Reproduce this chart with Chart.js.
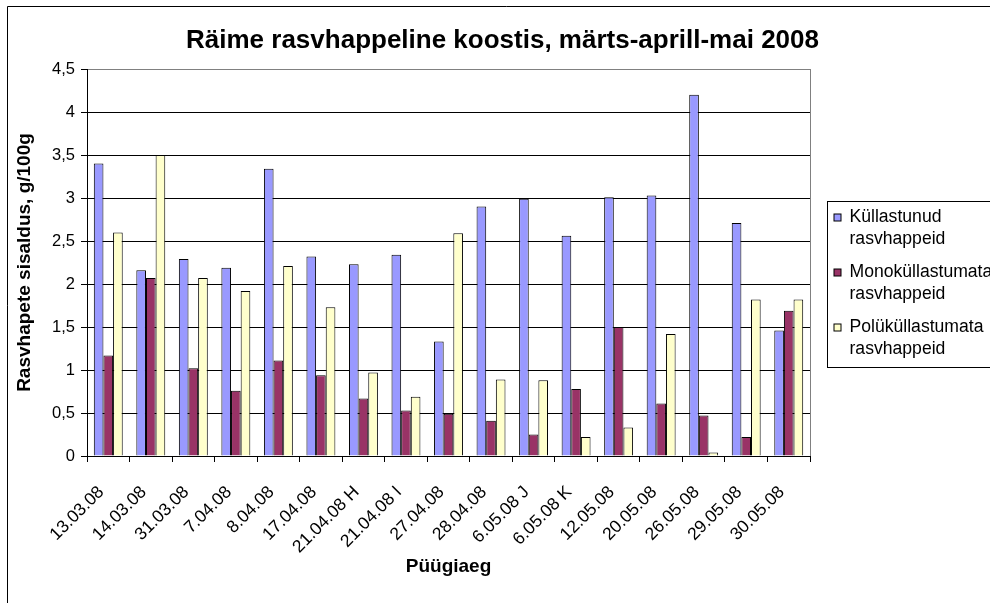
<!DOCTYPE html>
<html>
<head>
<meta charset="utf-8">
<script src="https://cdn.jsdelivr.net/npm/chart.js@4/dist/chart.umd.min.js"></script>
<style>
  html, body { margin: 0; padding: 0; background: #fff; overflow: hidden; }
  #wrap { width: 990px; height: 603px; overflow: hidden; }
</style>
</head>
<body>
<div id="wrap"><canvas id="myChart" width="1005" height="603"></canvas></div>
<script>
const categories = [
  "13.03.08", "14.03.08", "31.03.08", "7.04.08", "8.04.08", "17.04.08",
  "21.04.08 H", "21.04.08 I", "27.04.08", "28.04.08", "6.05.08 J",
  "6.05.08 K", "12.05.08", "20.05.08", "26.05.08", "29.05.08", "30.05.08"
];
const kyllastunud = [3.40, 2.16, 2.29, 2.19, 3.34, 2.32, 2.23, 2.34, 1.33, 2.90, 2.99, 2.56, 3.01, 3.03, 4.20, 2.71, 1.46];
const monokyllastumata = [1.17, 2.07, 1.02, 0.76, 1.11, 0.94, 0.67, 0.53, 0.49, 0.41, 0.25, 0.78, 1.50, 0.61, 0.47, 0.22, 1.69];
const polykyllastumata = [2.60, 3.50, 2.07, 1.92, 2.21, 1.73, 0.97, 0.69, 2.59, 0.89, 0.88, 0.22, 0.33, 1.42, 0.04, 1.82, 1.82];
const seriesNames = [
  ["Küllastunud", "rasvhappeid"],
  ["Monoküllastumata", "rasvhappeid"],
  ["Polüküllastumata", "rasvhappeid"]
];
const seriesColors = ["#9999FF", "#993366", "#FFFFCC"];
const yMax = 4.5;
const yStep = 0.5;

const fontFamily = "'Liberation Sans', Arial, sans-serif";

// white page, outer frame (only left/top visible) and grey plot frame
const framePlugin = {
  id: "frame",
  beforeDraw(chart) {
    const ctx = chart.ctx;
    ctx.save();
    ctx.fillStyle = "#fff";
    ctx.fillRect(0, 0, chart.width, chart.height);
    ctx.strokeStyle = "#000";
    ctx.lineWidth = 1;
    ctx.beginPath();
    ctx.moveTo(7.5, 700);
    ctx.lineTo(7.5, 6.5);
    ctx.lineTo(1100, 6.5);
    ctx.stroke();
    ctx.restore();
  },
  beforeDatasetsDraw(chart) {
    const { ctx, chartArea } = chart;
    ctx.save();
    ctx.strokeStyle = "#808080";
    ctx.lineWidth = 1;
    ctx.beginPath();
    ctx.moveTo(Math.round(chartArea.right) + 0.5, chartArea.top);
    ctx.lineTo(Math.round(chartArea.right) + 0.5, chartArea.bottom);
    ctx.stroke();
    ctx.restore();
  }
};

// legend box drawn at the right, like the Excel one
const legendPlugin = {
  id: "boxLegend",
  afterDraw(chart) {
    const { ctx, chartArea } = chart;
    const left = chartArea.right + 17.5;
    const top = chartArea.top + 132.5;
    ctx.save();
    ctx.strokeStyle = "#000";
    ctx.lineWidth = 1;
    ctx.strokeRect(left, top, 400, 166);
    ctx.font = "17.6px " + fontFamily;
    ctx.textBaseline = "middle";
    ctx.textAlign = "left";
    chart.data.datasets.forEach((ds, i) => {
      const y = top + 15.5 + i * 55;
      ctx.fillStyle = ds.backgroundColor;
      ctx.fillRect(left + 6.5, y - 3, 7, 7);
      ctx.strokeStyle = "#000";
      ctx.strokeRect(left + 6.5, y - 3, 7, 7);
      ctx.fillStyle = "#000";
      seriesNames[i].forEach((line, j) => {
        ctx.fillText(line, left + 22, y + j * 21.7);
      });
    });
    ctx.restore();
  }
};

const ctx = document.getElementById("myChart");
new Chart(ctx, {
  type: "bar",
  data: {
    labels: categories,
    datasets: [
      { label: seriesNames[0].join(" "), data: kyllastunud, backgroundColor: seriesColors[0] },
      { label: seriesNames[1].join(" "), data: monokyllastumata, backgroundColor: seriesColors[1] },
      { label: seriesNames[2].join(" "), data: polykyllastumata, backgroundColor: seriesColors[2] }
    ].map((ds) => ({
      ...ds,
      yAxisID: "y",
      borderColor: "#000",
      borderWidth: 1,
      categoryPercentage: 0.68,
      barPercentage: 1
    }))
  },
  options: {
    responsive: false,
    animation: false,
    devicePixelRatio: 1,
    layout: { padding: { left: 8, right: 8, top: 6, bottom: 0 } },
    plugins: {
      legend: { display: false },
      tooltip: { enabled: false },
      title: {
        display: true,
        text: "Räime rasvhappeline koostis, märts-aprill-mai 2008",
        color: "#000",
        font: { family: fontFamily, size: 26, weight: "bold", lineHeight: 1.2 },
        padding: { top: 19, bottom: 12.8 }
      }
    },
    scales: {
      x: {
        grid: {
          display: true,
          drawOnChartArea: false,
          drawTicks: true,
          tickLength: 6,
          color: "#000",
          offset: true
        },
        border: { display: true, color: "#000", width: 1 },
        ticks: {
          color: "#000",
          font: { family: fontFamily, size: 17.5 },
          minRotation: 45,
          maxRotation: 45,
          autoSkip: false,
          padding: 20,
          labelOffset: -7
        },
        title: {
          display: true,
          text: "Püügiaeg",
          color: "#000",
          font: { family: fontFamily, size: 19, weight: "bold", lineHeight: 1.2 },
          padding: { top: 0, bottom: 25 }
        },
        afterFit(scale) { scale.height = 147; }
      },
      y: {
        min: 0,
        max: yMax,
        grid: {
          color: (c) => (c.tick && c.tick.value === yMax ? "#808080" : "#000"),
          tickColor: "#000",
          tickLength: 6,
          lineWidth: 1
        },
        border: { display: true, color: "#000", width: 1 },
        ticks: {
          stepSize: yStep,
          color: "#000",
          font: { family: fontFamily, size: 16.5 },
          padding: 6,
          callback: (v) => String(v).replace(".", ",")
        },
        title: {
          display: true,
          text: "Rasvhapete sisaldus, g/100g",
          color: "#000",
          font: { family: fontFamily, size: 19, weight: "bold", lineHeight: 1.2 },
          padding: { top: 5, bottom: 0 }
        },
        afterFit(scale) { scale.width = 79; }
      },
      yPad: {
        type: "linear",
        position: "right",
        display: true,
        grid: { display: false },
        border: { display: false },
        ticks: { display: false },
        title: { display: false },
        afterFit(scale) { scale.width = 187; }
      }
    }
  },
  plugins: [framePlugin, legendPlugin]
});
</script>
</body>
</html>
